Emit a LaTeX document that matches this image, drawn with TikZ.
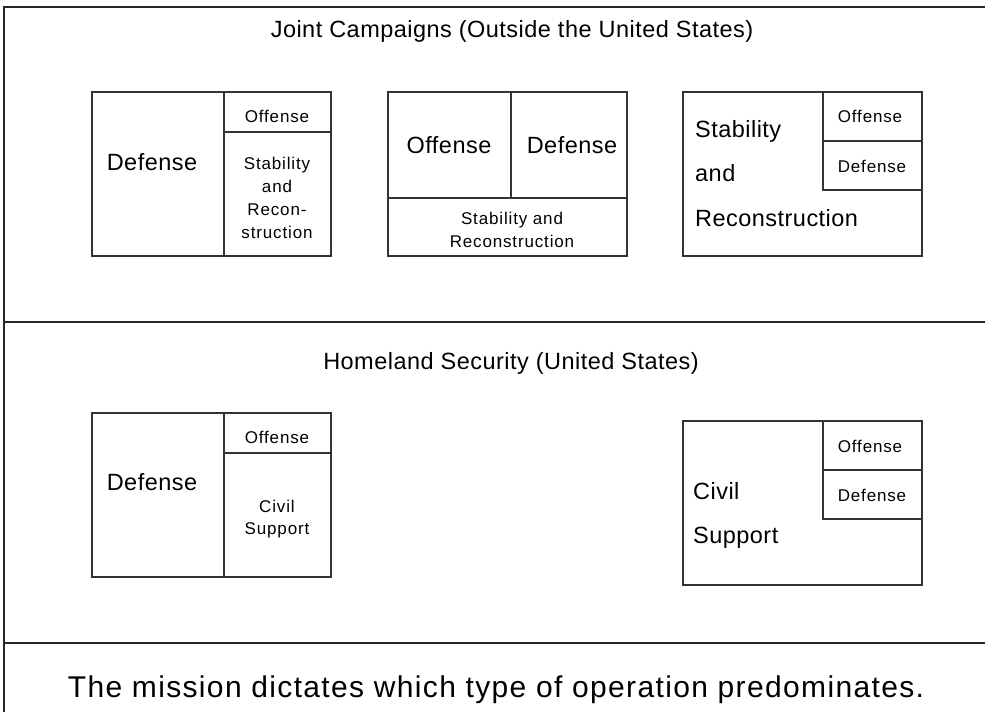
\documentclass[tikz,border=0pt]{standalone}
\usepackage{fontspec}
\setmainfont{Liberation Sans}
\newfontfamily\bigf[LetterSpace=2]{Liberation Sans}
\newfontfamily\smallf[LetterSpace=5]{Liberation Sans}
\newfontfamily\botf[LetterSpace=4.5]{Liberation Sans}
\begin{document}
\begin{tikzpicture}[x=1pt,y=-1pt,
  frame/.style={line width=1.8pt,draw=black!85},
  boxline/.style={line width=1.1pt,draw=black!80},
  bigtxt/.style={font=\bigf\fontsize{23.5}{44.5}\selectfont,inner sep=0pt},
  smalltxt/.style={font=\smallf\fontsize{17}{23}\selectfont,inner sep=0pt,align=center},
  bottxt/.style={font=\botf\fontsize{30}{32}\selectfont,inner sep=0pt}]
\useasboundingbox (0,0) rectangle (985,712);
% outer frame and separators
\draw[frame] (985,7) -- (4,7) -- (4,712);
\draw[frame] (4,322) -- (985,322);
\draw[frame] (4,643) -- (985,643);
% titles
\node[bigtxt,anchor=base] (t1) at (512,37) {Joint Campaigns (Outside the United States)};
\node[bigtxt,anchor=base] (t2) at (511,369) {Homeland Security (United States)};
\node[bottxt,anchor=base] (t3) at (496,697) {The mission dictates which type of operation predominates.};
% box 1
\draw[boxline] (92,92) rectangle (331,256);
\draw[boxline] (224,92) -- (224,256);
\draw[boxline] (224,132) -- (331,132);
\node[bigtxt,anchor=base] (b1def) at (152,170) {Defense};
\node[smalltxt,anchor=base] (b1off) at (277,122) {Offense};
\node[smalltxt] (b1sr) at (277,197.5) {Stability\\and\\Recon-\\struction};
% box 2
\draw[boxline] (388,92) rectangle (627,256);
\draw[boxline] (511,92) -- (511,198);
\draw[boxline] (388,198) -- (627,198);
\node[bigtxt,anchor=base] (b2off) at (449,153) {Offense};
\node[bigtxt,anchor=base] (b2def) at (572,153) {Defense};
\node[smalltxt] (b2sr) at (512,230) {Stability and\\Reconstruction};
% box 3
\draw[boxline] (683,92) rectangle (922,256);
\draw[boxline] (823,92) -- (823,190) -- (922,190);
\draw[boxline] (823,141) -- (922,141);
\node[smalltxt,anchor=base] (b3off) at (870,122) {Offense};
\node[smalltxt,anchor=base] (b3def) at (872,172) {Defense};
\node[bigtxt,align=left,anchor=west] (b3sr) at (695,173.1) {Stability\\and\\Reconstruction};
% box 4
\draw[boxline] (92,413) rectangle (331,577);
\draw[boxline] (224,413) -- (224,577);
\draw[boxline] (224,453) -- (331,453);
\node[bigtxt,anchor=base] (b4def) at (152,490) {Defense};
\node[smalltxt,anchor=base] (b4off) at (277,443) {Offense};
\node[smalltxt,font=\smallf\fontsize{17}{22}\selectfont] (b4cs) at (277,519) {Civil\\Support};
% box 5
\draw[boxline] (683,421) rectangle (922,585);
\draw[boxline] (823,421) -- (823,519) -- (922,519);
\draw[boxline] (823,470) -- (922,470);
\node[smalltxt,anchor=base] (b5off) at (870,452) {Offense};
\node[smalltxt,anchor=base] (b5def) at (872,501) {Defense};
\node[bigtxt,font=\bigf\fontsize{23.5}{44}\selectfont,align=left,anchor=west] (b5cs) at (693,515) {Civil\\Support};
\end{tikzpicture}
\end{document}
